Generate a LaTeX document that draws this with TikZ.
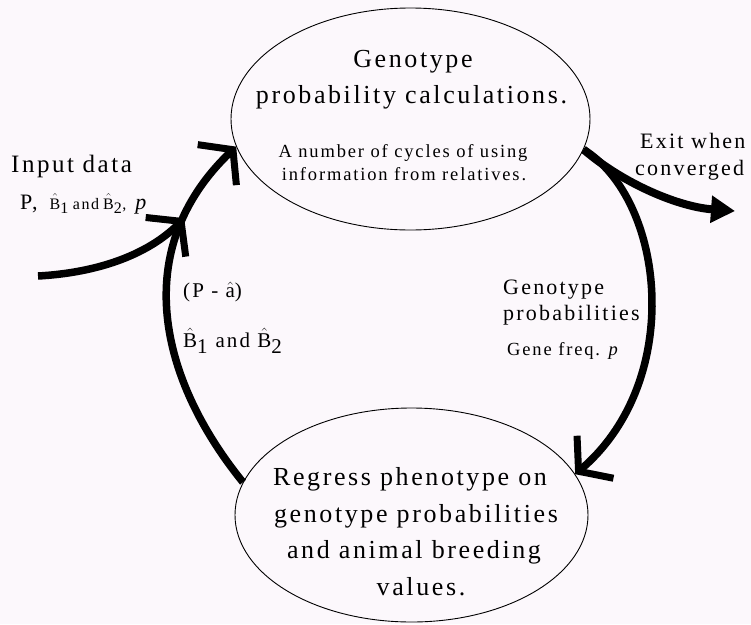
\documentclass[tikz,border=0pt]{standalone}
\usepackage{fontspec}
\setmainfont{Liberation Serif}[LetterSpace=10]
\usetikzlibrary{shapes.geometric,arrows.meta}
\definecolor{bgc}{RGB}{252,248,252}
\tikzset{
  ell/.style={draw, ellipse, line width=0.9pt, inner sep=0pt},
  flow/.style={line width=7.5pt, -{Straight Barb[length=22pt,width=56pt,line width=7pt]}},
  exitflow/.style={line width=8pt, -{Triangle[length=24pt,width=26pt]}},
  big/.style={anchor=base, inner sep=0pt, font=\fontsize{26}{30}\selectfont},
  small/.style={anchor=base, inner sep=0pt, font=\fontsize{18.5}{22}\selectfont},
  lbl/.style={anchor=base west, inner sep=0pt, font=\fontsize{22}{26}\selectfont},
}
\newcommand{\Bsub}[1]{$\hat{\mathrm{B}}_{\textstyle\mathrm{#1}}$}
\begin{document}
\begin{tikzpicture}[x=1pt,y=-1pt]
\fill[bgc] (0,0) rectangle (751,624);
\useasboundingbox (0,0) rectangle (751,624);
% ellipses
\node[ell, minimum width=359pt, minimum height=222pt] (T) at (410.5,119) {};
\node[ell, minimum width=353pt, minimum height=214pt] (B) at (411.5,515) {};
% top ellipse text
\node[big] (t1) at (413,67) {Genotype};
\node[big] (t2) at (411.5,103) {probability calculations.};
\node[small] (t3) at (403,157) {A number of cycles of using};
\node[small] (t4) at (404,180) {information from relatives.};
% bottom ellipse text
\node[big] (b1) at (410,485) {Regress phenotype on};
\node[big] (b2) at (416,522) {genotype probabilities};
\node[big] (b3) at (414,558) {and animal breeding};
\node[big] (b4) at (421,595) {values.};
% side labels
\node[lbl, font=\fontsize{25}{28}\selectfont] (in1) at (11,172) {Input data};
\node[lbl] (in2) at (20,209) {P,\hspace{12pt}{\fontsize{16}{18}\selectfont \Bsub{1}\hspace{4pt}and\hspace{4pt}\Bsub{2},}\hspace{9pt}\textit{p}};
\node[lbl, font=\fontsize{21}{24}\selectfont] (l1) at (183,297) {(P - $\hat{\mathrm{a}}$)};
\node[lbl, font=\fontsize{21}{24}\selectfont] (l2) at (183,347) {\Bsub{1} and \Bsub{2}};
\node[lbl] (r1) at (503,294) {Genotype};
\node[lbl] (r2) at (503,320) {probabilities};
\node[lbl, font=\fontsize{18.5}{22}\selectfont] (r3) at (507,355) {Gene freq. \textit{p}};
\node[lbl] (e1) at (640,148) {Exit when};
\node[lbl] (e2) at (635,175) {converged};
% connectors
\coordinate (Start) at (38,276);
\coordinate (Out) at (735,211);
\draw[flow] (B.169) .. controls (160,380) and (128,250) .. coordinate[pos=0.78] (J) (T.189);
\draw[flow] (Start) .. controls (110,272) and (155,248) .. (J);
\draw[flow] (T.-10) .. controls (665,200) and (685,380) .. (B.14);
\draw[exitflow] (T.-10) .. controls (625,185) and (680,207) .. (Out);
\end{tikzpicture}
\end{document}
